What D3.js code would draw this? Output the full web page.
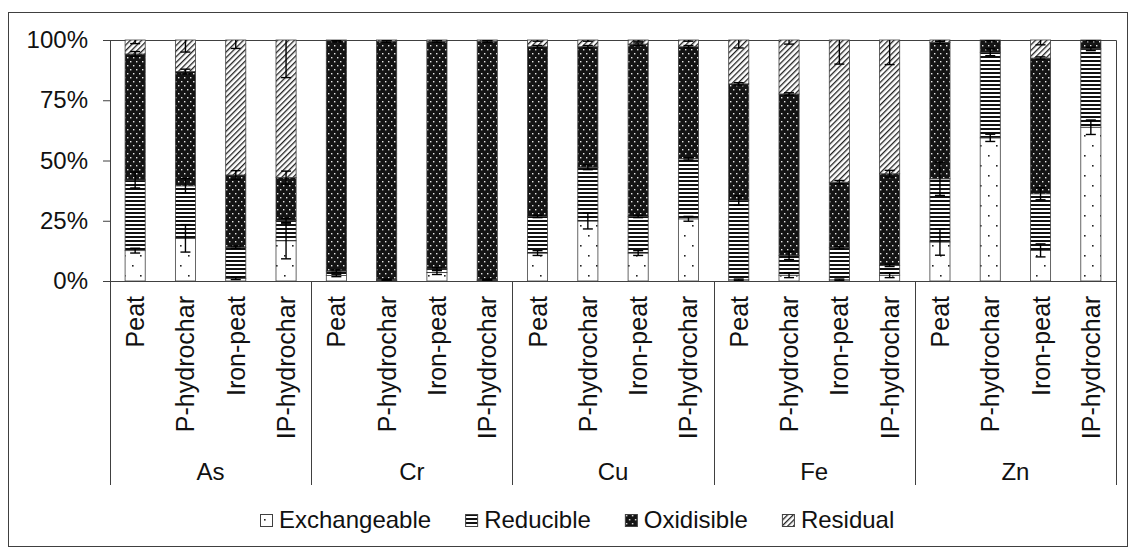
<!DOCTYPE html>
<html>
<head>
<meta charset="utf-8">
<script src="https://cdn.jsdelivr.net/npm/d3@7"></script>
<style>
    body { margin: 0; background: #ffffff; }
    svg { display: block; font-family: "Liberation Sans", Arial, sans-serif; }
</style>
</head>
<body>
<div id="chart"></div>
<script>
// Data (percent of total)
const metals = ["As", "Cr", "Cu", "Fe", "Zn"];
const samples = ["Peat", "P-hydrochar", "Iron-peat", "IP-hydrochar"];
const fractions = ["Exchangeable", "Reducible", "Oxidisible", "Residual"];

// one value per bar, metal by metal, samples in order
const exchangeable = [12.6, 17.7, 1.1, 16.7,  2.3, 0.2, 3.5, 0.2,  11.6, 24.9, 11.6, 25.8,  0.5, 2.4, 0.5, 2.4,  16.2, 59.4, 12.7, 63.8];
const reducible    = [29.3, 21.8, 12.9, 8.3,  1.8, 0.3, 1.5, 0.3,  15.2, 22.3, 15.2, 24.9,  32.9, 8.2, 13.3, 4.1,  26.2, 35.5, 23.5, 32.5];
const oxidisible   = [52.3, 47.4, 30.0, 17.9, 95.6, 99.0, 94.5, 99.0, 70.4, 50.0, 71.5, 46.5, 48.4, 67.0, 27.2, 38.0, 56.6, 5.1, 56.3, 3.7];
const residual     = [5.8, 13.1, 56.0, 57.1,  0.3, 0.5, 0.5, 0.5,  2.8, 2.8, 1.7, 2.8,  18.2, 22.4, 59.0, 55.5,  1.0, 0.0, 7.5, 0.0];

// standard deviations (same units)
const exchangeableErr = [1.0, 5.7, 0.5, 7.5,  0.5, 0.3, 0.8, 0.3,  1.0, 3.3, 1.0, 1.0,  0.3, 1.0, 0.3, 1.0,  5.5, 1.5, 2.7, 3.0];
const reducibleErr    = [3.3, 3.0, 0.5, 1.0,  0.5, 0.3, 0.5, 0.3,  0.5, 1.0, 0.5, 0.5,  2.0, 1.7, 0.5, 0.5,  6.9, 1.4, 2.5, 0.7];
const oxidisibleErr   = [1.0, 1.0, 1.8, 2.7,  0.5, 0.5, 0.5, 0.5,  0.5, 0.5, 0.5, 0.5,  0.5, 0.5, 0.7, 1.4,  0.5, 0.3, 0.5, 0.3];
const residualErr     = [1.5, 5.0, 3.5, 15.6, 0.3, 0.3, 0.3, 0.3,  0.5, 0.5, 0.5, 0.5,  3.3, 1.7, 10.0, 10.2, 0.5, 0.0, 2.0, 0.0];

const yTicks = [0, 0.25, 0.5, 0.75, 1];

// Build rows
const rows = [];
metals.forEach((m, mi) => {
    samples.forEach((s, si) => {
        const i = mi * samples.length + si;
        rows.push({
            key: m + "|" + s, metal: m, sample: s,
            Exchangeable: exchangeable[i], Reducible: reducible[i],
            Oxidisible: oxidisible[i], Residual: residual[i],
            err: {
                Exchangeable: exchangeableErr[i], Reducible: reducibleErr[i],
                Oxidisible: oxidisibleErr[i], Residual: residualErr[i],
            },
        });
    });
});

const width = 1131, height = 549;
const plot = { left: 110, right: 1116, top: 40, bottom: 281 };
const axisBottom = 485;
const ink = "#404040";

const svg = d3.select("#chart").append("svg")
    .attr("width", width)
    .attr("height", height);

// Patterns
const defs = svg.append("defs");

const pExch = defs.append("pattern").attr("id", "pat-Exchangeable")
    .attr("patternUnits", "userSpaceOnUse").attr("width", 16).attr("height", 20);
pExch.append("rect").attr("width", 16).attr("height", 20).attr("fill", "#fff");
pExch.append("rect").attr("x", 4).attr("y", 5).attr("width", 1.6).attr("height", 1.6).attr("fill", "#222");
pExch.append("rect").attr("x", 12).attr("y", 15).attr("width", 1.6).attr("height", 1.6).attr("fill", "#222");

const pRed = defs.append("pattern").attr("id", "pat-Reducible")
    .attr("patternUnits", "userSpaceOnUse").attr("width", 4).attr("height", 4);
pRed.append("rect").attr("width", 4).attr("height", 4).attr("fill", "#fff");
pRed.append("rect").attr("y", 0).attr("width", 4).attr("height", 2).attr("fill", "#111");

const pOx = defs.append("pattern").attr("id", "pat-Oxidisible")
    .attr("patternUnits", "userSpaceOnUse").attr("width", 6).attr("height", 8);
pOx.append("rect").attr("width", 6).attr("height", 8).attr("fill", "#141414");
pOx.append("rect").attr("x", 1).attr("y", 1).attr("width", 1.4).attr("height", 1.4).attr("fill", "#e8e8e8");
pOx.append("rect").attr("x", 4).attr("y", 5).attr("width", 1.4).attr("height", 1.4).attr("fill", "#e8e8e8");

const pRes = defs.append("pattern").attr("id", "pat-Residual")
    .attr("patternUnits", "userSpaceOnUse").attr("width", 4).attr("height", 4)
    .attr("patternTransform", "rotate(45)");
pRes.append("rect").attr("width", 4).attr("height", 4).attr("fill", "#fff");
pRes.append("rect").attr("x", 0).attr("width", 1.3).attr("height", 4).attr("fill", "#222");

defs.append("clipPath").attr("id", "plot-clip")
    .append("rect")
    .attr("x", plot.left).attr("y", plot.top)
    .attr("width", plot.right - plot.left).attr("height", plot.bottom - plot.top);

// Outer frame
svg.append("rect")
    .attr("x", 8.5).attr("y", 12.5)
    .attr("width", 1119).attr("height", 534)
    .attr("fill", "none").attr("stroke", ink).attr("stroke-width", 1);

// Scales
const x = d3.scaleBand()
    .domain(rows.map(d => d.key))
    .range([plot.left, plot.right])
    .paddingInner(0.6)
    .paddingOuter(0.3);

const y = d3.scaleLinear().domain([0, 1]).range([plot.bottom, plot.top]);

const stack = d3.stack().keys(fractions).offset(d3.stackOffsetExpand);
const series = stack(rows);

// Plot area border (top and right)
svg.append("path")
    .attr("d", `M${plot.left},${plot.top + 0.5}H${plot.right + 0.5}V${plot.bottom}`)
    .attr("fill", "none").attr("stroke", ink);

// Bars
const layer = svg.append("g");
series.forEach(s => {
    layer.append("g")
        .selectAll("rect")
        .data(s)
        .join("rect")
        .attr("x", d => x(d.data.key))
        .attr("y", d => y(d[1]))
        .attr("width", x.bandwidth())
        .attr("height", d => Math.max(0, y(d[0]) - y(d[1])))
        .attr("fill", `url(#pat-${s.key})`)
        .attr("stroke", ink)
        .attr("stroke-width", 0.8);
});

// Error bars
const errG = svg.append("g").attr("clip-path", "url(#plot-clip)")
    .attr("stroke", "#000").attr("stroke-width", 1.4);
series.forEach(s => {
    s.forEach(d => {
        const r = d.data;
        const total = fractions.reduce((a, k) => a + r[k], 0);
        const e = r.err[s.key] / total;
        if (e <= 0) return;
        const cx = x(r.key) + x.bandwidth() / 2;
        const y1 = y(d[1] + e), y2 = y(d[1] - e);
        errG.append("line").attr("x1", cx).attr("x2", cx).attr("y1", y1).attr("y2", y2);
        errG.append("line").attr("x1", cx - 5).attr("x2", cx + 5).attr("y1", y1).attr("y2", y1);
        errG.append("line").attr("x1", cx - 5).attr("x2", cx + 5).attr("y1", y2).attr("y2", y2);
    });
});

// Y axis
const yAxis = d3.axisLeft(y)
    .tickValues(yTicks)
    .tickFormat(d3.format(".0%"))
    .tickSize(7)
    .tickPadding(15);
const yg = svg.append("g")
    .attr("transform", `translate(${plot.left},0)`)
    .call(yAxis);
yg.select(".domain").attr("stroke", ink);
yg.selectAll(".tick line").attr("stroke", ink);
yg.selectAll(".tick text").attr("font-size", 24).attr("fill", "#111")
    .attr("font-family", "Liberation Sans, Arial, sans-serif");
svg.append("line")
    .attr("x1", plot.left + 0.5).attr("x2", plot.left + 0.5)
    .attr("y1", plot.bottom).attr("y2", axisBottom)
    .attr("stroke", ink);

// Category axis
svg.append("line")
    .attr("x1", plot.left).attr("x2", plot.right)
    .attr("y1", plot.bottom + 0.5).attr("y2", plot.bottom + 0.5)
    .attr("stroke", ink);

const groupStep = (plot.right - plot.left) / metals.length;
metals.forEach((m, i) => {
    const gx = plot.left + groupStep * (i + 1);
    svg.append("line")
        .attr("x1", Math.round(gx) + 0.5).attr("x2", Math.round(gx) + 0.5)
        .attr("y1", plot.bottom).attr("y2", axisBottom)
        .attr("stroke", ink);
    svg.append("text")
        .attr("x", plot.left + groupStep * (i + 0.5))
        .attr("y", 480)
        .attr("text-anchor", "middle")
        .attr("font-size", 24)
        .attr("fill", "#111")
        .text(m);
});

svg.append("g")
    .selectAll("text")
    .data(rows)
    .join("text")
    .attr("transform", d => `translate(${x(d.key) + x.bandwidth() / 2},296) rotate(-90)`)
    .attr("dy", "0.36em")
    .attr("text-anchor", "end")
    .attr("font-size", 25)
    .attr("fill", "#111")
    .text(d => d.sample);

// Legend
const legend = svg.append("g").attr("transform", "translate(260,514)");
let lx = 0;
fractions.forEach(f => {
    const item = legend.append("g").attr("transform", `translate(${lx},0)`);
    item.append("rect")
        .attr("x", 0.5).attr("y", 0.5)
        .attr("width", 12).attr("height", 12)
        .attr("fill", `url(#pat-${f})`)
        .attr("stroke", ink);
    const t = item.append("text")
        .attr("x", 19)
        .attr("y", 14)
        .attr("font-size", 24)
        .attr("fill", "#111")
        .text(f);
    lx += 19 + t.node().getComputedTextLength() + 34;
});
</script>
</body>
</html>
